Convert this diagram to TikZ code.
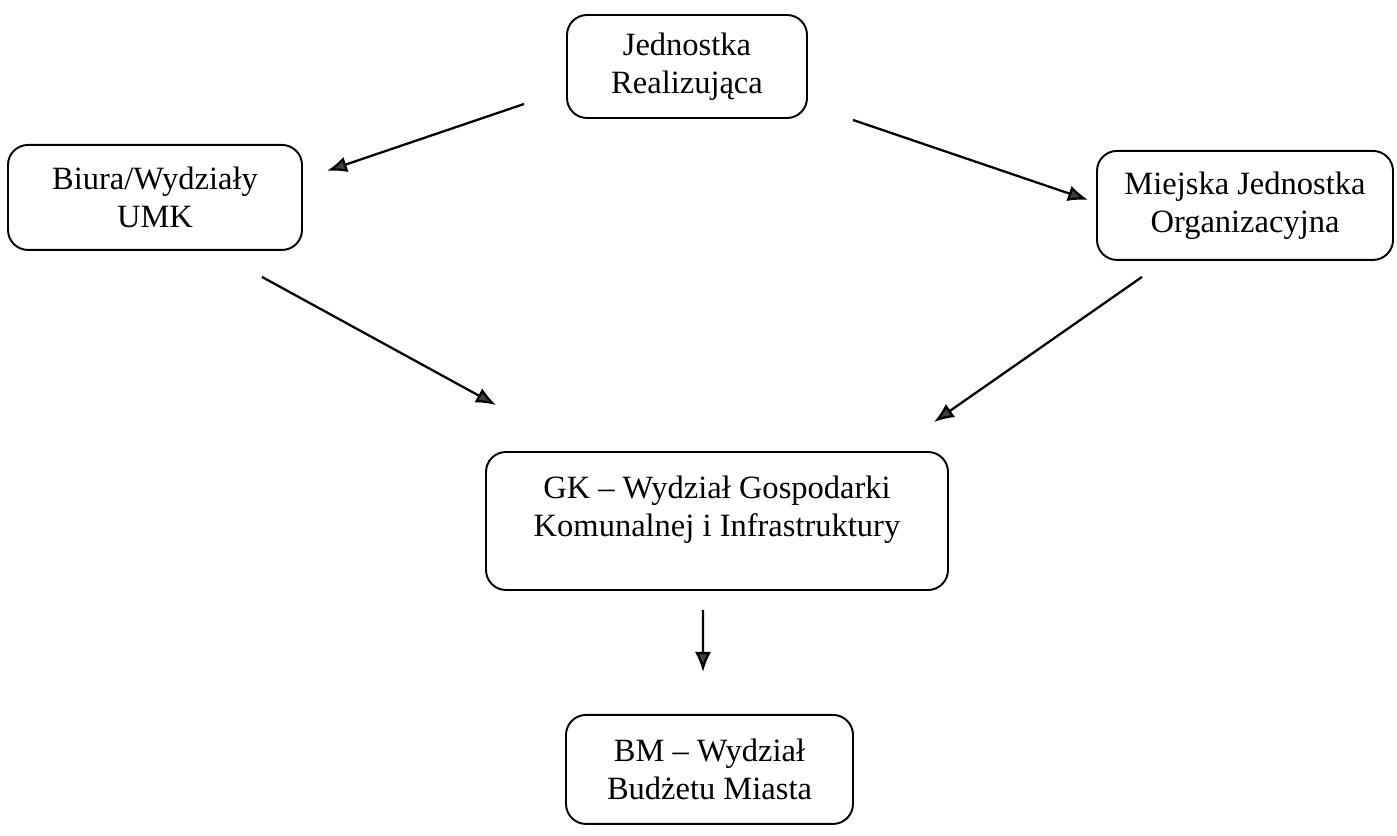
\documentclass[tikz,border=0pt]{standalone}
\usepackage{fontspec}
\setmainfont{Liberation Serif}
\usetikzlibrary{arrows.meta,positioning}
\tikzset{
  orgbox/.style={draw=black, line width=1.1pt, rounded corners=0.4cm, fill=white,
    align=center, minimum width=#1, font=\fontsize{18.5}{21.5}\selectfont, inner sep=3pt},
  orgbox/.default=5.9cm,
  orgarr/.style={-{Latex[length=4mm, width=3.2mm, fill=black!75]}, line width=1.3pt, black},
}
\begin{document}
\begin{tikzpicture}
    \useasboundingbox (0,0) rectangle (27.94,-16.72);
    \node[orgbox=4.8cm, minimum height=2.06cm] (jr) at (13.74,-1.33) {Jednostka\\Realizująca};
    \node[orgbox=5.88cm, minimum height=2.1cm, below=0.5cm of jr, xshift=-10.64cm] (biura) {Biura/Wydziały\\UMK};
    \node[orgbox=5.92cm, minimum height=2.18cm, below=0.62cm of jr, xshift=11.16cm] (mjo) {Miejska Jednostka\\Organizacyjna};
    \node[orgbox=9.24cm, minimum height=2.76cm] (gk) at (14.34,-10.42) {GK – Wydział Gospodarki\\Komunalnej i Infrastruktury\\[-4.5pt]\mbox{}};
    \node[orgbox=5.74cm, minimum height=2.18cm, below=2.46cm of gk, xshift=-0.15cm] (bm) {BM – Wydział\\Budżetu Miasta};
    \draw[orgarr] ([xshift=-0.84cm, yshift=-0.75cm]jr.west) -- ([xshift=0.48cm, yshift=0.53cm]biura.east);
    \draw[orgarr] ([xshift=0.9cm, yshift=-0.02cm]jr.south east) -- ([xshift=-0.16cm, yshift=0.11cm]mjo.west);
    \draw[orgarr] ([xshift=-0.82cm, yshift=-0.52cm]biura.south east) -- ([xshift=0.22cm, yshift=0.92cm]gk.north west);
    \draw[orgarr] ([xshift=0.92cm, yshift=-0.32cm]mjo.south west) -- ([xshift=-0.3cm, yshift=0.58cm]gk.north east);
    \draw[orgarr] ([xshift=-0.28cm, yshift=-0.38cm]gk.south) -- ([xshift=-0.13cm, yshift=0.84cm]bm.north);
  \end{tikzpicture}
\end{document}
